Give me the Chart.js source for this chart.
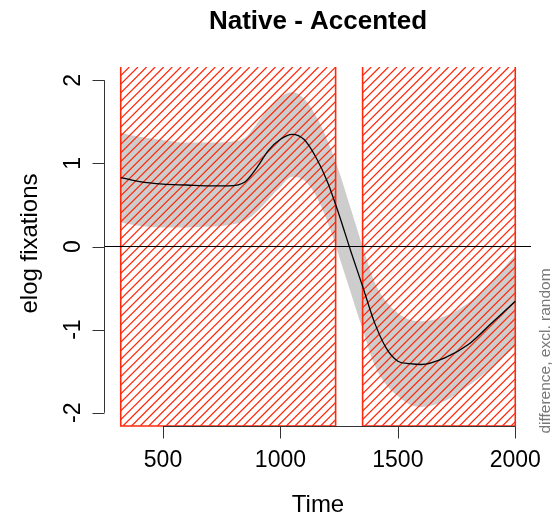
<!DOCTYPE html>
<html>
<head>
<meta charset="utf-8">
<script src="https://cdn.jsdelivr.net/npm/chart.js@4.4.1/dist/chart.umd.min.js"></script>
<style>
  html, body { margin: 0; padding: 0; background: #fff; }
  canvas { display: block; }
</style>
</head>
<body>
<canvas id="diffChart" width="552" height="515"></canvas>
<script>
// smooth difference curve (Native - Accented) and its confidence band
const times   = [320, 400, 500, 600, 700, 780, 850, 900, 950, 1000, 1050, 1100, 1150, 1200, 1250, 1300, 1350, 1400, 1450, 1500, 1550, 1600, 1700, 1800, 1900, 2000];
const fitMean = [0.83, 0.78, 0.75, 0.74, 0.73, 0.73, 0.78, 0.95, 1.16, 1.29, 1.35, 1.29, 1.08, 0.78, 0.38, -0.06, -0.48, -0.91, -1.22, -1.38, -1.41, -1.42, -1.34, -1.18, -0.92, -0.66];
const ciUpper = [1.37, 1.32, 1.28, 1.25, 1.25, 1.26, 1.31, 1.48, 1.67, 1.80, 1.86, 1.78, 1.58, 1.28, 0.90, 0.45, 0.00, -0.42, -0.66, -0.80, -0.88, -0.90, -0.84, -0.68, -0.42, -0.10];
const ciLower = [0.29, 0.25, 0.23, 0.23, 0.24, 0.26, 0.31, 0.42, 0.57, 0.72, 0.84, 0.80, 0.62, 0.30, -0.12, -0.56, -1.00, -1.42, -1.66, -1.80, -1.90, -1.93, -1.86, -1.68, -1.46, -1.20];

// tick labels
const xTicks = [500, 1000, 1500, 2000];
const yTicks = [-2, -1, 0, 1, 2];

// windows where the difference is significant (hatched)
const sigStart = [320, 1350];
const sigEnd   = [1235, 2000];

const FONT = "'Liberation Sans', Arial, Helvetica, sans-serif";
const HATCH_RED = '#ff2a0e';

function toPoints(values) {
    return times.map((t, i) => ({ x: t, y: values[i] }));
}

function drawHatch(chart) {
    const ctx = chart.ctx;
    const x = chart.scales.x;
    const area = chart.chartArea;
    const top = area.top;
    const bottom = area.bottom;
    const h = bottom - top;
    const spacing = 8.6;

    ctx.save();
    for (let i = 0; i < sigStart.length; i++) {
        const left = x.getPixelForValue(sigStart[i]);
        const right = x.getPixelForValue(sigEnd[i]);

        // diagonal lines, clipped to the window
        ctx.save();
        ctx.beginPath();
        ctx.rect(left, top, right - left, h);
        ctx.clip();
        ctx.strokeStyle = HATCH_RED;
        ctx.lineWidth = 1.25;
        ctx.beginPath();
        for (let s = left - h; s < right; s += spacing) {
            ctx.moveTo(s, bottom);
            ctx.lineTo(s + h, top);
        }
        ctx.stroke();
        ctx.restore();

        // border (top edge falls outside the plot region)
        ctx.strokeStyle = HATCH_RED;
        ctx.lineWidth = 1.6;
        ctx.beginPath();
        ctx.moveTo(left, top);
        ctx.lineTo(left, bottom);
        ctx.lineTo(right, bottom);
        ctx.lineTo(right, top);
        ctx.stroke();
    }
    ctx.restore();
}

// R-style axes, labels and title
const rStyle = {
    id: 'rStyle',
    beforeDatasetDraw(chart, args) {
        if (args.index === 2) drawHatch(chart);
    },
    afterDatasetsDraw(chart) {
        const ctx = chart.ctx;
        const area = chart.chartArea;
        const y0 = chart.scales.y.getPixelForValue(0);
        ctx.save();
        ctx.strokeStyle = '#000';
        ctx.lineWidth = 1;
        ctx.beginPath();
        ctx.moveTo(area.left, y0);
        ctx.lineTo(area.right, y0);
        ctx.stroke();
        ctx.restore();
    },
    afterDraw(chart) {
        const ctx = chart.ctx;
        const xs = chart.scales.x;
        const ys = chart.scales.y;
        const area = chart.chartArea;
        const tick = 12;

        ctx.save();
        ctx.strokeStyle = '#333';
        ctx.lineWidth = 1;

        // x axis
        const xa = Math.round(area.bottom) + 0.5;
        ctx.beginPath();
        ctx.moveTo(xs.getPixelForValue(xTicks[0]), xa);
        ctx.lineTo(xs.getPixelForValue(xTicks[xTicks.length - 1]), xa);
        xTicks.forEach(v => {
            const px = Math.round(xs.getPixelForValue(v)) + 0.5;
            ctx.moveTo(px, xa);
            ctx.lineTo(px, xa + tick);
        });
        ctx.stroke();

        // y axis
        const ya = Math.round(area.left) - 0.5;
        ctx.beginPath();
        ctx.moveTo(ya, ys.getPixelForValue(yTicks[0]));
        ctx.lineTo(ya, ys.getPixelForValue(yTicks[yTicks.length - 1]));
        yTicks.forEach(v => {
            const py = Math.round(ys.getPixelForValue(v)) + 0.5;
            ctx.moveTo(ya, py);
            ctx.lineTo(ya - tick, py);
        });
        ctx.stroke();

        ctx.fillStyle = '#000';
        ctx.textAlign = 'center';
        ctx.textBaseline = 'alphabetic';

        // tick labels
        ctx.font = '23px ' + FONT;
        xTicks.forEach(v => {
            ctx.fillText(String(v), xs.getPixelForValue(v), 467);
        });
        yTicks.forEach(v => {
            ctx.save();
            ctx.translate(80, ys.getPixelForValue(v));
            ctx.rotate(-Math.PI / 2);
            ctx.fillText(String(v), 0, 0);
            ctx.restore();
        });

        // axis titles
        const cx = (area.left + area.right) / 2;
        ctx.font = '24px ' + FONT;
        ctx.fillText('Time', cx, 512);
        ctx.save();
        ctx.translate(37, ys.getPixelForValue(0) - 3);
        ctx.rotate(-Math.PI / 2);
        ctx.fillText('elog fixations', 0, 0);
        ctx.restore();

        // main title
        ctx.font = 'bold 26px ' + FONT;
        ctx.fillText('Native - Accented', cx, 29);

        // side note
        ctx.fillStyle = '#777';
        ctx.font = '15.5px ' + FONT;
        ctx.save();
        ctx.translate(550, 351);
        ctx.rotate(-Math.PI / 2);
        ctx.fillText('difference, excl. random', 0, 0);
        ctx.restore();

        ctx.restore();
    }
};

new Chart(document.getElementById('diffChart'), {
    type: 'line',
    data: {
        datasets: [
            {
                label: 'upper',
                data: toPoints(ciUpper),
                borderWidth: 0,
                pointRadius: 0,
                backgroundColor: '#cdcdcd',
                fill: '+1',
                cubicInterpolationMode: 'monotone',
                order: 3
            },
            {
                label: 'lower',
                data: toPoints(ciLower),
                borderWidth: 0,
                pointRadius: 0,
                fill: false,
                cubicInterpolationMode: 'monotone',
                order: 2
            },
            {
                label: 'difference',
                data: toPoints(fitMean),
                borderColor: '#000',
                borderWidth: 1.3,
                pointRadius: 0,
                fill: false,
                cubicInterpolationMode: 'monotone',
                order: 1
            }
        ]
    },
    options: {
        responsive: false,
        animation: false,
        devicePixelRatio: 1,
        layout: {
            padding: { left: 105, right: 21, top: 67, bottom: 89 }
        },
        scales: {
            x: { type: 'linear', min: 253, max: 2067, display: false },
            y: { min: -2.16, max: 2.16, display: false }
        },
        plugins: {
            legend: { display: false },
            tooltip: { enabled: false }
        }
    },
    plugins: [rStyle]
});
</script>
</body>
</html>
